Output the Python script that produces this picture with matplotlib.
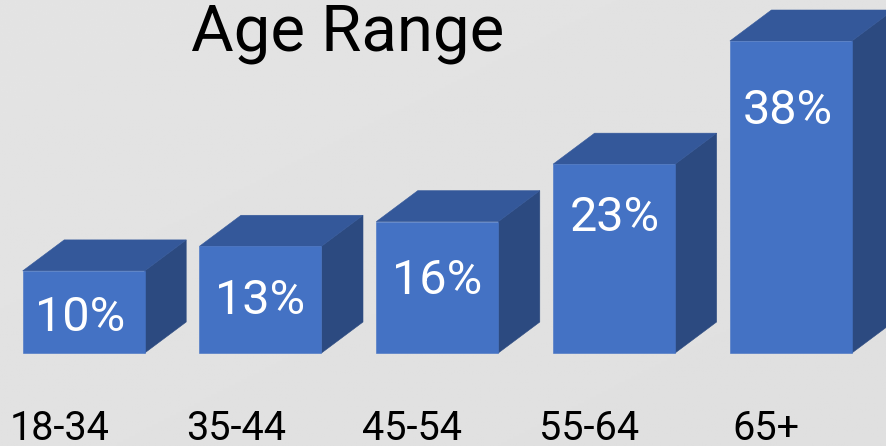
import numpy as np
import matplotlib
matplotlib.use("Agg")
import matplotlib.pyplot as plt
from matplotlib.patches import Polygon

# ---------------- DATA ----------------
ages = ["18-34", "35-44", "45-54", "55-64", "65+"]
shares = [10, 13, 16, 23, 38]

# labels sit by hand in the original, not centred on the bars
label_x = [80, 260, 437, 615, 788]
label_y = [318, 301, 281, 218, 111]
age_x = [59.5, 236, 412.5, 589.5, 766]

plt.rcParams["font.family"] = ["Roboto", "DejaVu Sans"]

fig = plt.figure(figsize=(8.87, 4.46), dpi=100)

# background, light grey, slightly brighter at the top left
bg = fig.add_axes([0, 0, 1, 1], zorder=0)
bg.axis("off")
xx, yy = np.meshgrid(np.linspace(0, 1, 300), np.linspace(0, 1, 150))
shade = 0.893 - 0.018 * (xx * 0.5 + yy * 0.5)
bg.imshow(shade, cmap="gray", vmin=0, vmax=1, aspect="auto", extent=[0, 1, 0, 1])

# y axis scaled so 38% reaches the top of the tallest front face
ax = fig.add_axes([0, 0, 1, 1], zorder=1)
ax.set_xlim(0, 887)
ax.set_ylim(446, 0)
ax.axis("off")

base_y = 353
px_per_pct = (353 - 41) / 38
bar_w = 122
left_start = 22.7
step = 176.8
dx, dy = 41.5, 31

front = "#4472c4"
top = "#34589a"
side = "#2c4a80"

for i, (age, val) in enumerate(zip(ages, shares)):
    x0 = left_start + i * step
    x1 = x0 + bar_w
    y1 = base_y - val * px_per_pct
    # side, top and front faces
    ax.add_patch(Polygon([(x1, y1), (x1 + dx, y1 - dy), (x1 + dx, base_y - dy), (x1, base_y)],
                         facecolor=side, edgecolor=side, lw=0.4))
    ax.add_patch(Polygon([(x0, y1), (x0 + dx, y1 - dy), (x1 + dx, y1 - dy), (x1, y1)],
                         facecolor=top, edgecolor=top, lw=0.4))
    ax.add_patch(Polygon([(x0, y1), (x1, y1), (x1, base_y), (x0, base_y)],
                         facecolor=front, edgecolor=front, lw=0.4))
    ax.text(label_x[i], label_y[i], f"{val}%", color="white", fontsize=35,
            ha="center", va="center")
    ax.text(age_x[i], 428, age, color="black", fontsize=28.5, ha="center", va="center")

ax.text(348, 33, "Age Range", color="black", fontsize=47, ha="center", va="center")

fig.savefig("out.png", dpi=100)
